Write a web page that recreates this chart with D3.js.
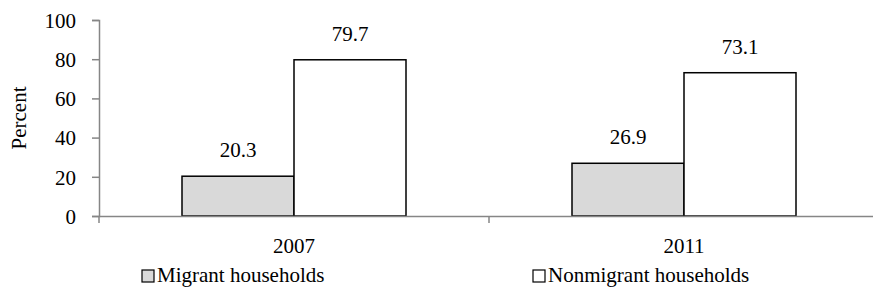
<!DOCTYPE html>
<html>
<head>
<meta charset="utf-8">
<script src="https://cdn.jsdelivr.net/npm/d3@7"></script>
<style>
  body { margin: 0; background: #fff; }
  svg text { font-family: "Liberation Serif", "DejaVu Serif", serif; fill: #000; }
</style>
</head>
<body>
<div id="chart"></div>
<script>
// chart data
const years = ["2007", "2011"];
const seriesNames = ["Migrant households", "Nonmigrant households"];
const migrant = [20.3, 26.9];
const nonmigrant = [79.7, 73.1];
const yTicks = [0, 20, 40, 60, 80, 100];
const seriesFill = ["#d9d9d9", "#ffffff"];

function drawChart() {
    const width = 873, height = 294;
    const margin = { top: 20, right: -6, bottom: 78, left: 99 };
    const fontSize = "21px";

    const svg = d3.select("#chart")
        .append("svg")
        .attr("width", width)
        .attr("height", height);

    // x scale for years, inner scale for the two series
    const x = d3.scaleBand()
        .domain(years)
        .range([margin.left, width - margin.right]);
    const inner = d3.scaleBand()
        .domain(seriesNames)
        .range([0, 224]);
    const y = d3.scaleLinear()
        .domain([0, 100])
        .range([height - margin.bottom, margin.top]);

    const rows = years.map((yr, i) => ({ year: yr, values: [migrant[i], nonmigrant[i]] }));

    // y axis
    const yAxis = svg.append("g")
        .attr("transform", `translate(${margin.left},0)`)
        .call(d3.axisLeft(y).tickValues(yTicks).tickSize(7).tickPadding(16));
    yAxis.attr("font-family", null).attr("font-size", fontSize);
    yAxis.select(".domain").attr("stroke", "#868686").attr("stroke-width", 1.5);
    yAxis.selectAll(".tick line").attr("stroke", "#868686").attr("stroke-width", 1.5);
    yAxis.selectAll("text").attr("dy", "0.35em");

    // bars
    const groups = svg.append("g")
        .selectAll("g")
        .data(rows)
        .join("g")
        .attr("transform", d => `translate(${x(d.year) + x.bandwidth() / 2 - 112},0)`);

    groups.selectAll("rect")
        .data(d => d.values.map((v, j) => ({ v, s: seriesNames[j], j })))
        .join("rect")
        .attr("x", d => inner(d.s))
        .attr("y", d => y(d.v))
        .attr("width", inner.bandwidth())
        .attr("height", d => y(0) - y(d.v))
        .attr("fill", d => seriesFill[d.j])
        .attr("stroke", "#000")
        .attr("stroke-width", 1.5);

    groups.selectAll("text.val")
        .data(d => d.values.map((v, j) => ({ v, s: seriesNames[j] })))
        .join("text")
        .attr("class", "val")
        .attr("x", d => inner(d.s) + inner.bandwidth() / 2)
        .attr("y", d => y(d.v) - 19)
        .attr("text-anchor", "middle")
        .attr("font-size", fontSize)
        .text(d => d.v.toFixed(1));

    // x axis
    const xAxis = svg.append("g")
        .attr("transform", `translate(0,${y(0)})`)
        .call(d3.axisBottom(x).tickSize(0).tickPadding(22));
    xAxis.attr("font-family", null).attr("font-size", fontSize);
    xAxis.select(".domain").attr("stroke", "#868686").attr("stroke-width", 1.5);
    // boundary ticks between categories
    xAxis.selectAll("line.bound")
        .data([margin.left, x("2011")])
        .join("line")
        .attr("class", "bound")
        .attr("x1", d => d).attr("x2", d => d)
        .attr("y1", 0).attr("y2", 7)
        .attr("stroke", "#868686")
        .attr("stroke-width", 1.5);

    // y axis title
    svg.append("text")
        .attr("transform", `translate(26,${(y(0) + y(100)) / 2}) rotate(-90)`)
        .attr("text-anchor", "middle")
        .attr("font-size", fontSize)
        .text("Percent");

    // legend
    const legendX = [142, 533];
    const legend = svg.append("g")
        .selectAll("g")
        .data(seriesNames)
        .join("g")
        .attr("transform", (d, i) => `translate(${legendX[i]},270)`);
    legend.append("rect")
        .attr("width", 12).attr("height", 12)
        .attr("fill", (d, i) => seriesFill[i])
        .attr("stroke", "#000")
        .attr("stroke-width", 1.2);
    legend.append("text")
        .attr("x", 15)
        .attr("y", 12)
        .attr("font-size", fontSize)
        .text(d => d);
}

drawChart();
</script>
</body>
</html>
